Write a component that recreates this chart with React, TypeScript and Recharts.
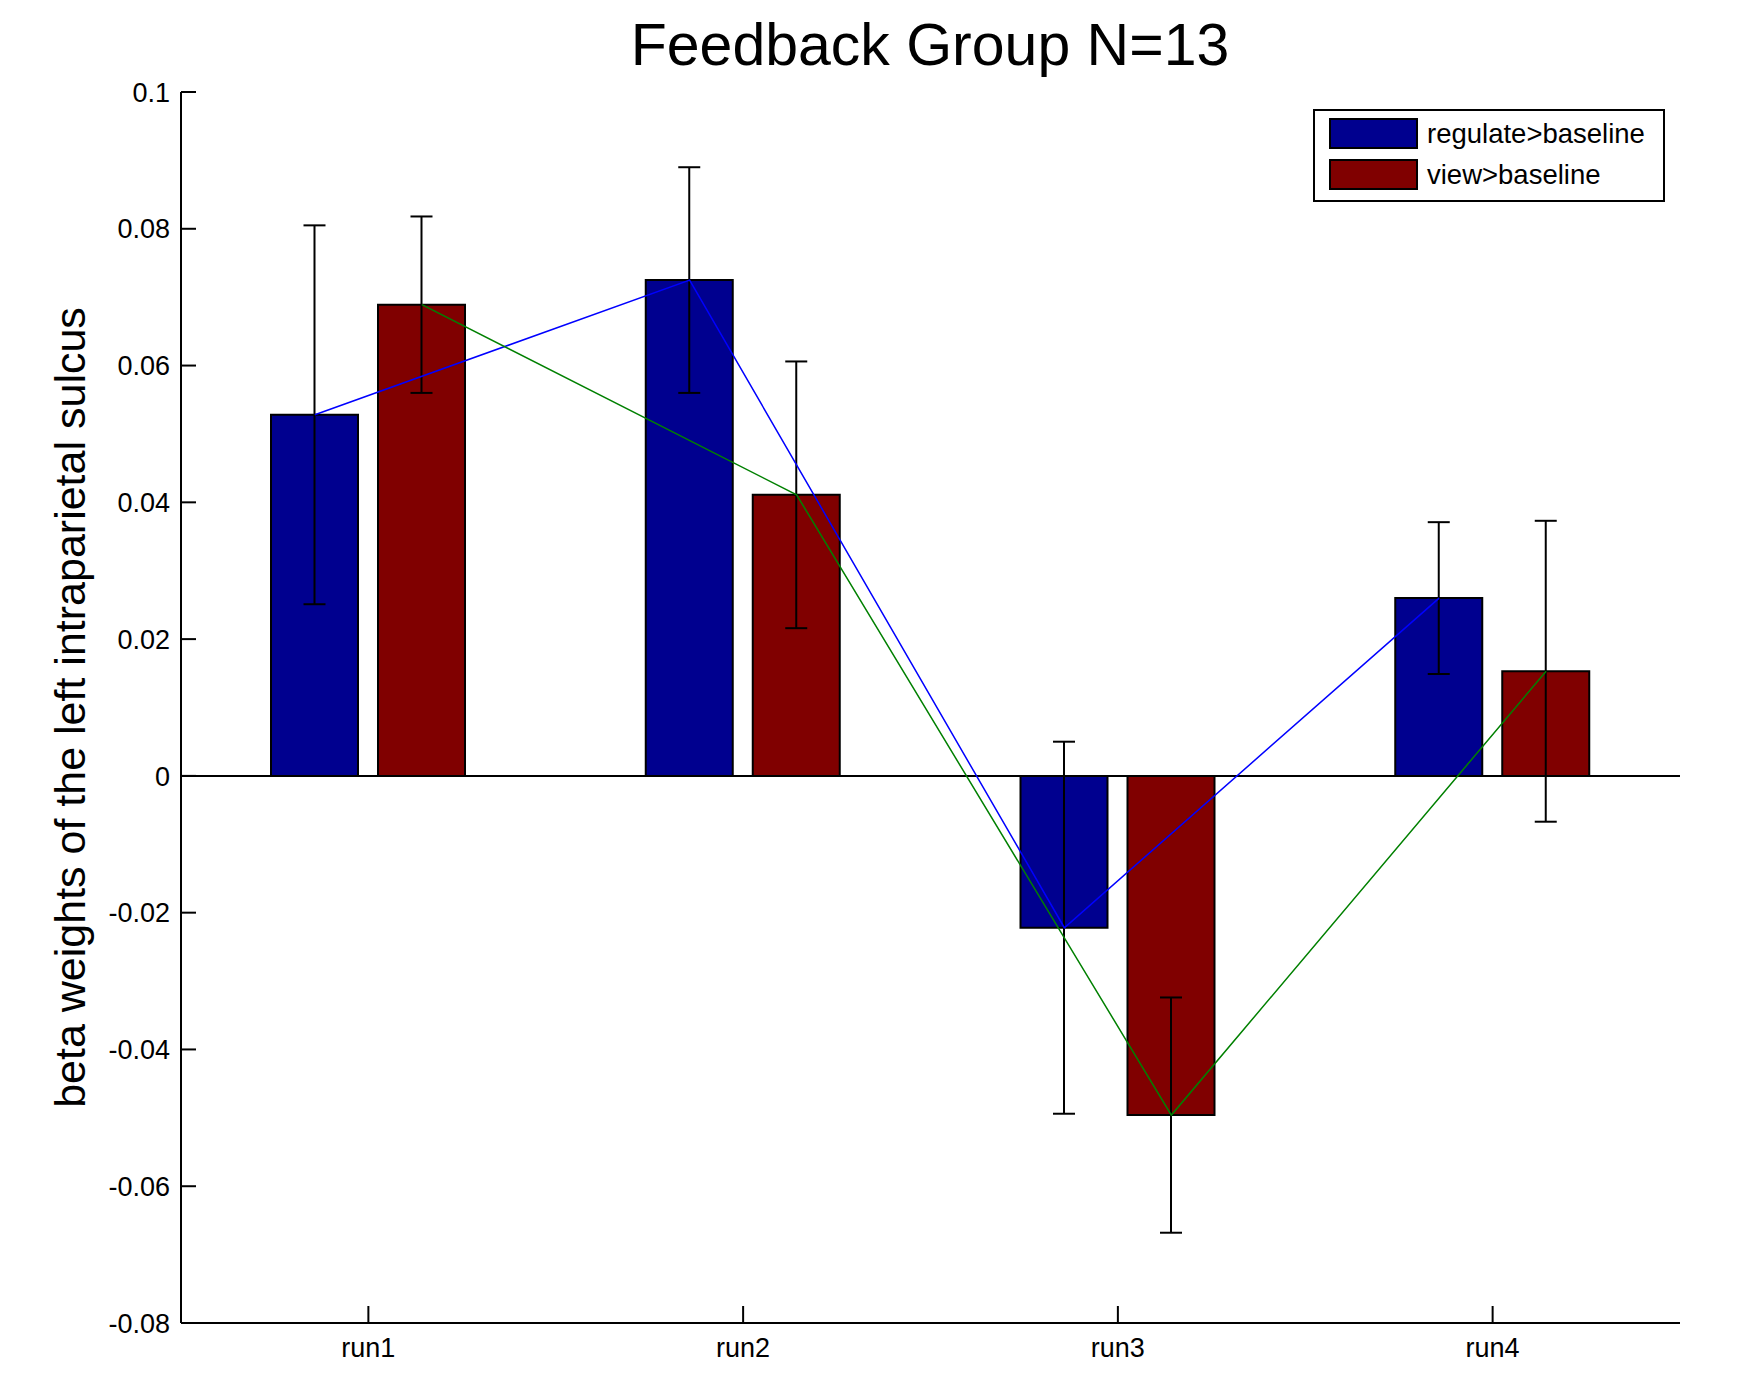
import React from 'react';
import { ComposedChart, Bar, Line, XAxis, YAxis, ErrorBar, ReferenceLine, Legend } from 'recharts';

// values
const RUNS = ['run1', 'run2', 'run3', 'run4'];
const REGULATE = [0.0528, 0.0725, -0.0222, 0.026];
const VIEW = [0.0689, 0.0411, -0.0496, 0.0153];
const REGULATE_ERR = [0.0277, 0.0165, 0.0272, 0.0111];
const VIEW_ERR = [0.0129, 0.0195, 0.0172, 0.022];
const Y_TICKS = [-0.08, -0.06, -0.04, -0.02, 0, 0.02, 0.04, 0.06, 0.08, 0.1];

const TITLE = 'Feedback Group N=13';
const Y_LABEL = 'beta weights of the left intraparietal sulcus';

const FONT = '"Liberation Sans", Arial, sans-serif';
const W = 1756;
const H = 1393;
const MARGIN = { top: 92, right: 76, bottom: 0, left: 0 };
const Y_AXIS_W = 181;
const X_AXIS_H = 70;
const BAR_SIZE = 87;
const BAR_GAP = 20;
const BAND = (W - MARGIN.left - Y_AXIS_W - MARGIN.right) / RUNS.length;
const HALF_STEP = (BAR_SIZE + BAR_GAP) / 2 / BAND;

const data = RUNS.map((run, i) => ({
  run,
  regulate: REGULATE[i],
  view: VIEW[i],
  regulateErr: REGULATE_ERR[i],
  viewErr: VIEW_ERR[i],
  regPos: i + 0.5 - HALF_STEP,
  viewPos: i + 0.5 + HALF_STEP,
}));

const fmt = (v: number) => String(Number(v.toFixed(2)));

const YTick = ({ x, y, payload }: any) => (
  <g>
    <line x1={x + 11} y1={y} x2={x + 26} y2={y} stroke="#000" strokeWidth={2} />
    <text x={x} y={y} dy="0.36em" textAnchor="end" fontSize={27} fontFamily={FONT} fill="#000">
      {fmt(payload.value)}
    </text>
  </g>
);

const XTick = ({ x, y, payload }: any) => (
  <g>
    <line x1={x} y1={y - 15} x2={x} y2={y - 32} stroke="#000" strokeWidth={2} />
    <text x={x} y={y} dy="0.71em" textAnchor="middle" fontSize={27} fontFamily={FONT} fill="#000">
      {payload.value}
    </text>
  </g>
);

const YLabel = ({ viewBox }: any) => {
  const cx = viewBox.x + 85;
  const cy = viewBox.y + viewBox.height / 2;
  return (
    <text x={cx} y={cy} transform={`rotate(-90 ${cx} ${cy})`} textAnchor="middle" fontSize={43} fontFamily={FONT} fill="#000">
      {Y_LABEL}
    </text>
  );
};

// only the bar series go in the legend box
const LegendBox = ({ payload }: any) => (
  <div
    style={{
      width: 352,
      height: 93,
      boxSizing: 'border-box',
      border: '2px solid #000',
      background: '#fff',
      padding: '7px 0 0 14px',
    }}
  >
    {(payload || [])
      .filter((p: any) => p.type !== 'none' && p.type !== 'line' && String(p.value).includes('>'))
      .map((p: any, i: number) => (
        <div key={p.value} style={{ display: 'flex', alignItems: 'center', height: 31, marginTop: i ? 10 : 0 }}>
          <span
            style={{ width: 89, height: 31, boxSizing: 'border-box', background: p.color, border: '2px solid #000' }}
          />
          <span style={{ marginLeft: 9, fontSize: 27.5, fontFamily: FONT, lineHeight: '31px', color: '#000' }}>
            {p.value}
          </span>
        </div>
      ))}
  </div>
);

export default function App() {
  return (
    <div style={{ position: 'absolute', left: 0, top: 0, width: W, height: H, background: '#fff' }}>
      <ComposedChart width={W} height={H} data={data} margin={MARGIN} barGap={BAR_GAP} barSize={BAR_SIZE}>
        <text x={930} y={65} textAnchor="middle" fontSize={59} fontFamily={FONT} fill="#000">
          {TITLE}
        </text>
        <XAxis
          dataKey="run"
          height={X_AXIS_H}
          axisLine={{ stroke: '#000', strokeWidth: 2 }}
          tickLine={false}
          tickSize={0}
          tickMargin={15}
          tick={(p: any) => <XTick {...p} />}
        />
        <XAxis xAxisId="reg" dataKey="regPos" type="number" domain={[0, RUNS.length]} hide />
        <XAxis xAxisId="view" dataKey="viewPos" type="number" domain={[0, RUNS.length]} hide />
        <YAxis
          width={Y_AXIS_W}
          domain={[Y_TICKS[0], Y_TICKS[Y_TICKS.length - 1]]}
          ticks={Y_TICKS}
          interval={0}
          axisLine={{ stroke: '#000', strokeWidth: 2 }}
          tickLine={false}
          tickSize={0}
          tickMargin={11}
          tick={(p: any) => <YTick {...p} />}
          label={{ value: Y_LABEL, content: (p: any) => <YLabel {...p} /> }}
        />
        <ReferenceLine y={0} stroke="#000" strokeWidth={2} />
        <Bar dataKey="regulate" name="regulate>baseline" fill="#00008F" stroke="#000" strokeWidth={2} isAnimationActive={false}>
          <ErrorBar dataKey="regulateErr" width={11} stroke="#000" strokeWidth={2} />
        </Bar>
        <Bar dataKey="view" name="view>baseline" fill="#800000" stroke="#000" strokeWidth={2} isAnimationActive={false}>
          <ErrorBar dataKey="viewErr" width={11} stroke="#000" strokeWidth={2} />
        </Bar>
        <Line xAxisId="reg" dataKey="regulate" stroke="#0000ff" strokeWidth={1.5} dot={false} legendType="none" isAnimationActive={false} />
        <Line xAxisId="view" dataKey="view" stroke="#008000" strokeWidth={1.5} dot={false} legendType="none" isAnimationActive={false} />
        <Legend
          verticalAlign="middle"
          align="center"
          layout="horizontal"
          content={(p: any) => <LegendBox {...p} />}
          wrapperStyle={{ left: 1313, top: 109, width: 352, height: 93 }}
        />
      </ComposedChart>
    </div>
  );
}
